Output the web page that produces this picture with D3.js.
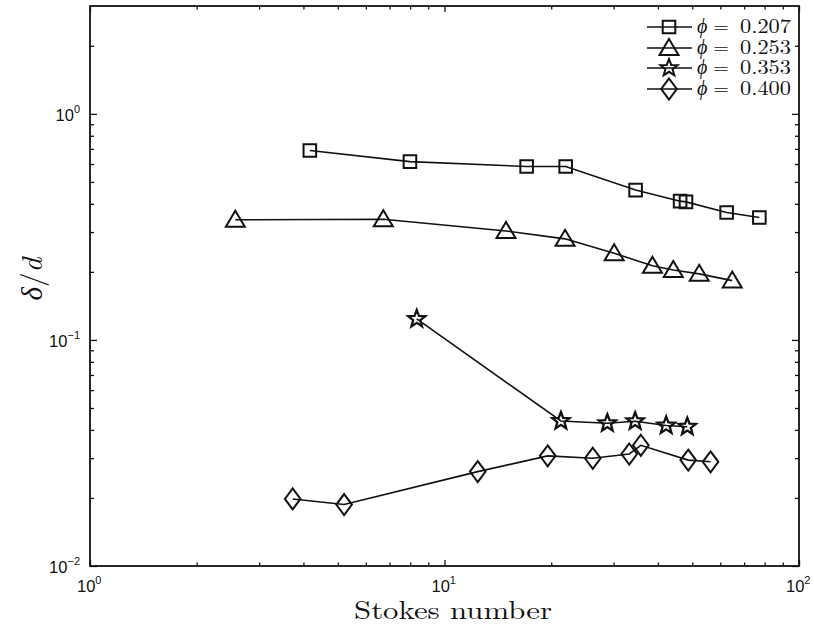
<!DOCTYPE html>
<html><head><meta charset="utf-8">
<script src="https://cdn.jsdelivr.net/npm/d3@7"></script>
<style>body{margin:0;background:#fff}</style>
</head><body>
<svg id="c" width="814" height="626"></svg>
<script>
// ---- data ----
const seriesLabels = ["0.207", "0.253", "0.353", "0.400"];
const markerTypes = ["square", "triangle", "star", "diamond"];
const x207 = [4.17, 7.99, 17.05, 21.97, 34.6, 46.2, 48.0, 62.5, 77.3];
const y207 = [0.689, 0.615, 0.585, 0.585, 0.460, 0.411, 0.408, 0.366, 0.348];
const x253 = [2.57, 6.72, 14.91, 21.88, 30.1, 38.6, 44.2, 52.3, 64.8];
const y253 = [0.340, 0.342, 0.3035, 0.280, 0.2417, 0.213, 0.204, 0.196, 0.183];
const x353 = [8.35, 21.3, 28.8, 34.5, 42.2, 48.4];
const y353 = [0.1238, 0.0438, 0.0428, 0.0437, 0.0418, 0.0413];
const x400 = [3.73, 5.21, 12.41, 19.55, 26.2, 33.2, 35.8, 48.7, 56.3];
const y400 = [0.0198, 0.0187, 0.02615, 0.0307, 0.02996, 0.0313, 0.0342, 0.0294, 0.0289];
const xDomain = [1, 100];
const yDomain = [0.01, 3];
const xMajor = [1, 10, 100];
const xExp = ["0", "1", "2"];
const yMajor = [0.01, 0.1, 1];
const yExp = ["\u22122", "\u22121", "0"];
const xLabel = "Stokes number";

const allX = [x207, x253, x353, x400];
const allY = [y207, y253, y353, y400];

// ---- layout ----
const L = 90, R = 799, T = 6, B = 566;
const svg = d3.select("#c");
const x = d3.scaleLog().domain(xDomain).range([L, R]);
const y = d3.scaleLog().domain(yDomain).range([B, T]);

function minors(dom) {
  const out = [];
  for (let e = Math.floor(Math.log10(dom[0])); e <= Math.ceil(Math.log10(dom[1])); e++) {
    for (let k = 2; k <= 9; k++) {
      const v = k * Math.pow(10, e);
      if (v > dom[0] && v < dom[1]) out.push(v);
    }
  }
  return out;
}
const xMin = minors(xDomain), yMin = minors(yDomain);

function axisG(axis, tr) {
  const g = svg.append("g").attr("transform", tr).call(axis);
  g.select(".domain").remove();
  g.selectAll(".tick text").remove();
  g.selectAll(".tick line").attr("stroke", "#111").attr("stroke-width", 1.3);
  return g;
}
// inward ticks (negative size)
axisG(d3.axisBottom(x).tickValues(xMajor).tickSize(-6).tickFormat(""), `translate(0,${B})`);
axisG(d3.axisBottom(x).tickValues(xMin).tickSize(-3.5).tickFormat(""), `translate(0,${B})`);
axisG(d3.axisTop(x).tickValues(xMajor).tickSize(-6).tickFormat(""), `translate(0,${T})`);
axisG(d3.axisTop(x).tickValues(xMin).tickSize(-3.5).tickFormat(""), `translate(0,${T})`);
axisG(d3.axisLeft(y).tickValues(yMajor).tickSize(-7).tickFormat(""), `translate(${L},0)`);
axisG(d3.axisLeft(y).tickValues(yMin).tickSize(-4).tickFormat(""), `translate(${L},0)`);
axisG(d3.axisRight(y).tickValues(yMajor).tickSize(-7).tickFormat(""), `translate(${R},0)`);
axisG(d3.axisRight(y).tickValues(yMin).tickSize(-4).tickFormat(""), `translate(${R},0)`);

// frame
svg.append("rect").attr("x", L).attr("y", T).attr("width", R - L).attr("height", B - T)
  .attr("fill", "none").attr("stroke", "#111").attr("stroke-width", 1.8);

// tick labels
const tickFont = "'Liberation Sans', Arial, sans-serif";
xMajor.forEach((v, i) => {
  const t = svg.append("text").attr("x", x(v) - 13).attr("y", 592)
    .attr("font-family", tickFont).attr("font-size", 16.5).attr("fill", "#111");
  t.append("tspan").text("10");
  t.append("tspan").attr("font-size", 11).attr("dy", -8).text(xExp[i]);
});
yMajor.forEach((v, i) => {
  const t = svg.append("text").attr("x", 80).attr("y", y(v) + 7)
    .attr("text-anchor", "end")
    .attr("font-family", tickFont).attr("font-size", 16.5).attr("fill", "#111");
  t.append("tspan").text("10");
  t.append("tspan").attr("font-size", 11).attr("dy", -8).text(yExp[i]);
});

// axis titles
const serif = "'Latin Modern Roman','CMU Serif','Liberation Serif','Times New Roman',serif";
svg.append("text").attr("x", 453).attr("y", 619).attr("text-anchor", "middle")
  .attr("font-family", serif).attr("font-size", 26).attr("fill", "#111")
  .attr("textLength", 198).attr("lengthAdjust", "spacingAndGlyphs").text(xLabel);
const yl = svg.append("text").attr("transform", "translate(42,279) rotate(-90)")
  .attr("text-anchor", "middle").attr("font-family", serif).attr("font-size", 29)
  .attr("font-style", "italic").attr("fill", "#111");
yl.append("tspan").text("\u03B4");
yl.append("tspan").attr("font-style", "normal").text("/");
yl.append("tspan").text("d");

// markers
function markerPath(type) {
  const p = d3.path();
  if (type === "square") {
    const s = 6.3; p.rect(-s, -s, 2 * s, 2 * s);
  } else if (type === "triangle") {
    p.moveTo(0, -9); p.lineTo(9.5, 7); p.lineTo(-9.5, 7); p.closePath();
  } else if (type === "diamond") {
    p.moveTo(0, -10.5); p.lineTo(7.8, 0); p.lineTo(0, 10.5); p.lineTo(-7.8, 0); p.closePath();
  } else if (type === "star") {
    const ro = 9, ri = 3.8;
    for (let k = 0; k < 10; k++) {
      const r = k % 2 ? ri : ro, a = -Math.PI / 2 + k * Math.PI / 5;
      const px = r * Math.cos(a), py = r * Math.sin(a);
      k ? p.lineTo(px, py) : p.moveTo(px, py);
    }
    p.closePath();
  }
  return p.toString();
}

const line = d3.line().x(d => x(d[0])).y(d => y(d[1]));
allX.forEach((xs, si) => {
  const pts = xs.map((v, j) => [v, allY[si][j]]);
  const g = svg.append("g");
  g.append("path").attr("d", line(pts)).attr("fill", "none")
    .attr("stroke", "#111").attr("stroke-width", 1.6);
  g.selectAll("path.m").data(pts).enter().append("path").attr("class", "m")
    .attr("transform", d => `translate(${x(d[0])},${y(d[1])})`)
    .attr("d", markerPath(markerTypes[si]))
    .attr("fill", "none").attr("stroke", "#111").attr("stroke-width", markerTypes[si] === "star" ? 2.3 : 2);
});

// legend
const legY = [27, 48, 68, 89];
seriesLabels.forEach((lab, i) => {
  const g = svg.append("g");
  g.append("line").attr("x1", 647).attr("x2", 692).attr("y1", legY[i]).attr("y2", legY[i])
    .attr("stroke", "#111").attr("stroke-width", 1.6);
  g.append("path").attr("transform", `translate(669,${legY[i]})`)
    .attr("d", markerPath(markerTypes[i])).attr("fill", "none")
    .attr("stroke", "#111").attr("stroke-width", 2);
  const base = legY[i] + 6;
  const fs = 20;
  g.append("text").attr("x", 697).attr("y", base).attr("font-family", serif)
    .attr("font-size", fs).attr("font-style", "italic").attr("fill", "#111").text("\u03D5");
  g.append("text").attr("x", 721).attr("y", base).attr("text-anchor", "middle")
    .attr("font-family", serif).attr("font-size", fs).attr("fill", "#111").text("=");
  g.append("text").attr("x", 740).attr("y", base).attr("font-family", serif)
    .attr("font-size", fs).attr("fill", "#111")
    .attr("textLength", 51).attr("lengthAdjust", "spacingAndGlyphs").text(lab);
});
</script>
</body></html>
